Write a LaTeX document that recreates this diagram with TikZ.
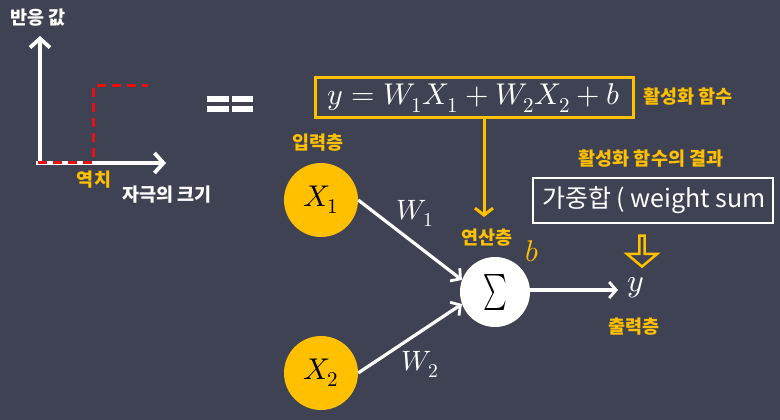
\documentclass[tikz,border=0pt]{standalone}
\usepackage{fontspec}
\usepackage{unicode-math}
\setmathfont{Latin Modern Math}
\newfontfamily\kr{Noto Sans CJK KR}
\setmainfont{Noto Sans CJK KR}
\usetikzlibrary{arrows.meta,shapes.arrows}
\definecolor{bg}{HTML}{3F4253}
\definecolor{yel}{HTML}{FFC000}
\definecolor{redd}{HTML}{E81010}
\tikzset{
  krlabel/.style={font=\kr\bfseries\fontsize{18.5}{19}\selectfont, inner sep=0pt},
  ylabel/.style={krlabel, text=yel},
  wlabel/.style={krlabel, text=white},
  axis/.style={white, line width=4.5pt, -{Straight Barb[length=9pt,width=20pt,line width=3.8pt]}},
  wire/.style={white, line width=3.2pt, -{Straight Barb[length=7pt,width=16pt,line width=2.8pt]}},
  thresh/.style={redd, line width=3pt, dash pattern=on 9pt off 6pt},
  neuron/.style={circle, fill=yel, minimum size=74pt, inner sep=0pt, font=\fontsize{30}{32}\selectfont},
  mathw/.style={text=white, inner sep=0pt, font=\fontsize{28}{30}\selectfont}
}
\begin{document}
\begin{tikzpicture}[x=1pt,y=-1pt]
\fill[bg] (0,0) rectangle (780,420);
\useasboundingbox (0,0) rectangle (780,420);
% left chart
\coordinate (Ytop) at (40,36);
\coordinate (Xend) at (166,163);
\draw[axis] (40,165) -- (Ytop);
\draw[axis] (36,163) -- (Xend);
\coordinate (T0) at (38,162);
\coordinate (T1) at (93,162);
\coordinate (T2) at (93,86);
\coordinate (T3) at (148,86);
\draw[thresh] (T0) -- (T1) -- (T2) -- (T3);
\node[wlabel, anchor=west] (resp) at (10,18) {반응 값};
\node[ylabel] (thr) at (94,180) {역치};
\node[wlabel, anchor=west] (stim) at (122,195) {자극의 크기};
\fill[white] (207,96) rectangle (229,102);
\fill[white] (232,96) rectangle (253,102);
\fill[white] (207,106) rectangle (229,112);
\fill[white] (232,106) rectangle (253,112);
% equation box
\node[draw=yel, line width=3pt, minimum width=318pt, minimum height=40pt, inner sep=0pt, text=white, font=\fontsize{30}{32}\selectfont] (eqbox) at (474,98) {$y = W_1X_1 + W_2X_2 + b$};
\node[ylabel, anchor=west] (act) at (643,97) {활성화 함수};
% neurons
\node[neuron] (x1) at (321,200) {$X_1$};
\node[neuron] (x2) at (321,373) {$X_2$};
\node[circle, fill=white, minimum size=70pt, inner sep=0pt, font=\fontsize{30}{32}\selectfont] (sum) at (495,292) {\scalebox{0.75}[1.2]{$\sum$}};
\node[ylabel] (inl) at (318,143) {입력층};
\node[ylabel] (opl) at (487,238) {연산층};
\node[text=yel, inner sep=0pt, font=\fontsize{30}{32}\selectfont] (b) at (532,251) {$b$};
\draw[wire] (x1.east) -- (sum.160);
\draw[wire] (x2.east) -- (sum.200);
\node[mathw] (w1) at (415,213) {$W_1$};
\node[mathw] (w2) at (420,364) {$W_2$};
\coordinate (ytip) at (618,290);
\draw[wire] (sum.east |- ytip) -- (ytip);
\node[text=white, inner sep=0pt, font=\fontsize{32}{34}\selectfont] (y) at (636,288) {$y$};
\node[ylabel] (outl) at (634,327) {출력층};
\coordinate (eqdown) at (484,118);
\coordinate (opdown) at (484,217);
\draw[yel, line width=3pt, -{Straight Barb[length=7pt,width=18pt,line width=3pt]}] (eqdown) -- (opdown);
% result
\node[ylabel] (res) at (651,159) {활성화 함수의 결과};
\draw[white, line width=2.5pt] (533,178) rectangle (773,223);
\node[text=white, anchor=west, inner sep=0pt, font=\kr\fontsize{25}{27}\selectfont] (ws) at (542,200) {가중합 ( weight sum};
\node[single arrow, draw=yel, line width=2.5pt, fill=none, shape border rotate=270, minimum height=31pt, minimum width=30pt, single arrow head extend=6pt, single arrow tip angle=100, inner sep=0pt] (da) at (642,250) {};
\end{tikzpicture}
\end{document}
